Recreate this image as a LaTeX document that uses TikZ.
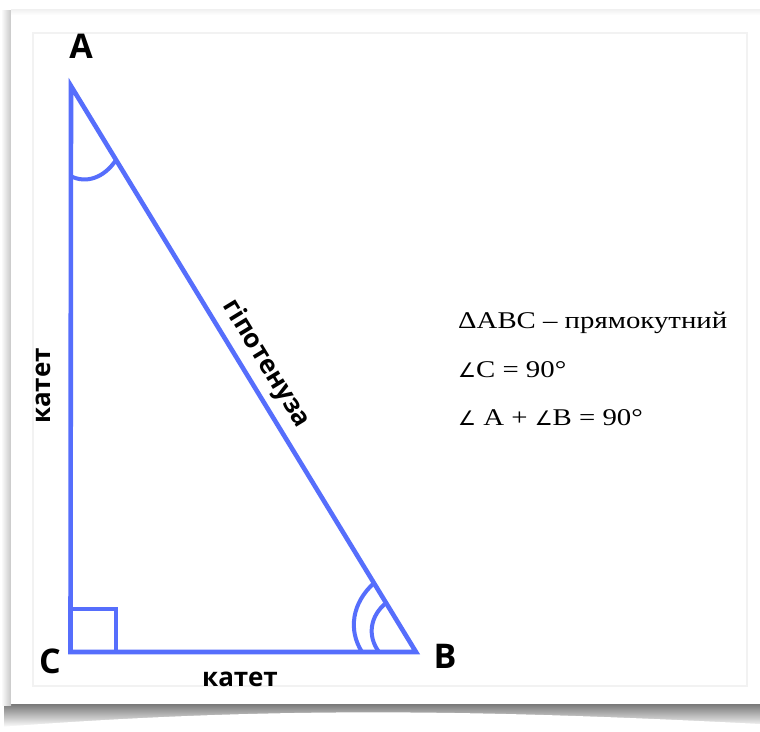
\documentclass[tikz,border=0pt]{standalone}
\usepackage{fontspec}
\setmainfont{Liberation Serif}
\newfontfamily\labelfont{Open Sans}
\newfontfamily\factfont[FakeStretch=1.2]{Liberation Serif}
\newfontfamily\symfont{DejaVu Sans}
\usetikzlibrary{calc}
\definecolor{triblue}{RGB}{86,110,252}
\definecolor{framegray}{RGB}{242,242,242}

\begin{document}
\begin{tikzpicture}[x=1pt,y=-1pt,
    side/.style={draw=triblue,line width=4.6pt,line join=miter},
    arcline/.style={draw=triblue,line width=4pt},
    vlabel/.style={font=\labelfont\bfseries\fontsize{34}{36}\selectfont,inner sep=0pt},
    slabel/.style={font=\labelfont\bfseries\fontsize{26}{30}\selectfont,inner sep=0pt},
    fact/.style={font=\factfont\fontsize{24}{26}\selectfont,anchor=base west,inner sep=0pt}]
    \useasboundingbox (0,0) rectangle (760,731);
    % card and shadow
    \shade[top color=black!55,bottom color=white] (4,703) rectangle (760,727);
    \fill[white] (0,727) .. controls (250,708) and (450,708) .. (760,724) -- (760,731) -- (0,731) -- cycle;
    \shade[left color=white,right color=black!22] (1,10) rectangle (11,705);
    \fill[white] (11,10) rectangle (760,704);
    \shade[top color=black!6,bottom color=white] (11,9) rectangle (760,15);
    \draw[framegray,line width=1.5pt] (33,33) rectangle (747,686);
    % triangle
    \coordinate (A) at (71,86);
    \coordinate (C) at (70.5,652);
    \coordinate (B) at (416,652);
    \draw[side] (A) -- (B) -- (C) -- cycle;
    \draw[side,line width=4pt] (C) ++(0,-43) -- ++(45,0) -- ++(0,43);
    \draw[arcline] (70.5,176) .. controls (86,184) and (104,178) .. (116,160);
    \draw[arcline] (374,583) .. controls (352,603) and (348,630) .. (362,652);
    \draw[arcline] (386,603) .. controls (370,616) and (367,636) .. (379,652);
    % labels
    \node[vlabel] (lA) at (81,46) {A};
    \node[vlabel] (lC) at (50,661) {C};
    \node[vlabel] (lB) at (445,656) {B};
    \node[slabel,rotate=90] (legCA) at (43,386) {катет};
    \node[slabel,anchor=base] (legCB) at (240,686) {катет};
    \node[slabel,rotate=-58.6] (hyp) at (266,364) {гіпотенуза};
    \node[fact] (f1) at (458,328) {ΔABC – прямокутний};
    \node[fact] (f2) at (458,377) {{\symfont\fontsize{20}{24}\selectfont ∠}C = 90°};
    \node[fact] (f3) at (458,425) {{\symfont\fontsize{20}{24}\selectfont ∠} A + {\symfont\fontsize{20}{24}\selectfont ∠}B = 90°};
\end{tikzpicture}
\end{document}
